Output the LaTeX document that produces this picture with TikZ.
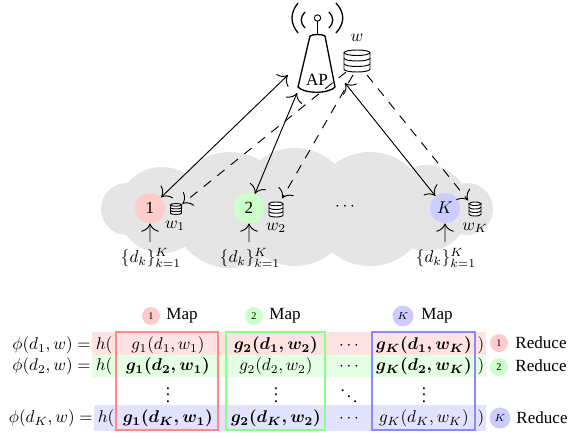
\documentclass[tikz,border=0pt]{standalone}
\usepackage{fontspec}
\setmainfont{Liberation Serif}
\usetikzlibrary{arrows.meta}
\definecolor{cred}{HTML}{FFCCCC}
\definecolor{cgreen}{HTML}{CCFFCC}
\definecolor{cblue}{HTML}{CCCCFF}
\definecolor{bred}{HTML}{FFE3E3}
\definecolor{bgreen}{HTML}{E5FFE5}
\definecolor{bblue}{HTML}{E3E3FF}
\definecolor{fred}{HTML}{FF8A8A}
\definecolor{fgreen}{HTML}{8AFF8A}
\definecolor{fblue}{HTML}{8A8AFF}
\definecolor{cloudc}{HTML}{E5E5E5}
\newcommand{\mydb}[4]{%
  \begin{scope}[shift={(#1,#2)},x=#3*0.75pt,y=-#4*0.75pt]
    \draw[dbline,fill=white] (-1,-0.75) -- (-1,0.75) arc[start angle=180,end angle=0,x radius=1,y radius=0.25] -- (1,-0.75);
    \draw[dbline,fill=white] (0,-0.75) ellipse[x radius=1,y radius=0.25];
    \draw[dbline] (-1,-0.25) arc[start angle=180,end angle=0,x radius=1,y radius=0.25];
    \draw[dbline] (-1,0.25) arc[start angle=180,end angle=0,x radius=1,y radius=0.25];
  \end{scope}}
\tikzset{
  x=0.75pt,y=-0.75pt,
  dbline/.style={line width=0.7pt},
  lobe/.style={fill=cloudc,draw=none},
  worker/.style={circle,minimum size=17.6pt,inner sep=0pt,scale=1.28},
  dbspot/.style={circle,inner sep=0pt},
  link/.style={line width=0.7pt,{Computer Modern Rightarrow[scale=2]}-{Computer Modern Rightarrow[scale=2]}},
  dlink/.style={line width=0.7pt,dash pattern=on 7pt off 6pt,-{Computer Modern Rightarrow[scale=2]}},
  up/.style={line width=0.7pt,-{Computer Modern Rightarrow[scale=2]}},
  tag/.style={circle,inner sep=0pt,minimum size=10.5pt,font=\fontsize{6}{7}\selectfont,scale=1.28},
  frame/.style={line width=1.5pt},
  lbl/.style={inner sep=0pt,scale=1.28},
  cell/.style={lbl,anchor=base},
  boldcell/.style={lbl,anchor=base,font=\boldmath},
}
\begin{document}
\begin{tikzpicture}
\useasboundingbox (0,0) rectangle (569,439);
% cloud
\fill[lobe] (127,209) circle[radius=26];
\fill[lobe] (162,210) ellipse[x radius=44,y radius=43];
\fill[lobe] (230,210) ellipse[x radius=58,y radius=58];
\fill[lobe] (295,207) ellipse[x radius=58,y radius=59];
\fill[lobe] (370,209) ellipse[x radius=58,y radius=57];
\fill[lobe] (427,208) ellipse[x radius=42,y radius=43];
\fill[lobe] (467,209) circle[radius=26];
% AP
\draw[line width=1pt] (310,36) -- (298,87) .. controls (304,94) and (329,94) .. (335,87) -- (325,36) .. controls (322,34) and (313,34) .. (310,36);
\draw[line width=0.7pt] (317.5,21) -- (317.5,34);
\draw[line width=0.7pt] (317.5,18) circle[radius=3.2];
\draw[line width=1pt] (305,12) .. controls (300,17) and (300,23) .. (305,28);
\draw[line width=1pt] (329,12) .. controls (334,17) and (334,23) .. (329,28);
\draw[line width=1pt] (298,3) .. controls (290,13) and (290,23) .. (298,33);
\draw[line width=1pt] (336,3) .. controls (345,13) and (345,23) .. (336,33);
\node[lbl] (ap) at (317,80) {AP};
\mydb{357}{61}{13}{11}
\node[lbl] (wlab) at (357,38) {$w$};
% anchors of links
\coordinate (apa) at (288,75);
\coordinate (apb) at (297,93);
\coordinate (apc) at (345,83);
\coordinate (dba) at (346,72);
\coordinate (dbb) at (353,75);
\coordinate (dbc) at (367,75);
% workers
\node[worker,fill=cred] (n1) at (150,208) {1};
\node[worker,fill=cgreen] (n2) at (249,208) {2};
\node[worker,fill=cblue] (nk) at (445,208) {$K$};
\node[lbl] (dots) at (345,207) {$\cdots$};
\node[dbspot,minimum size=12pt] (d1) at (176,209) {};
\node[dbspot,minimum size=18pt] (d2) at (276,209) {};
\node[dbspot,minimum size=16pt] (dk) at (475,209) {};
\mydb{176}{209}{5.5}{5.5}
\mydb{276}{209.5}{7}{7.5}
\mydb{475}{209}{6}{7}
\node[lbl] (w1) at (175,226) {$w_1$};
\node[lbl] (w2) at (276,228) {$w_2$};
\node[lbl] (wk) at (475,228) {$w_K$};
\node[lbl] (s1) at (151,258) {$\{d_k\}_{k=1}^K$};
\node[lbl] (s2) at (250,258) {$\{d_k\}_{k=1}^K$};
\node[lbl] (sk) at (446,258) {$\{d_k\}_{k=1}^K$};
\coordinate (s1t) at (150,242);
\coordinate (s2t) at (249,242);
\coordinate (skt) at (445,242);
% connectors
\draw[link] (apa) -- (n1);
\draw[link] (apb) -- (n2);
\draw[link] (apc) -- (nk);
\draw[dlink] (dba) -- (d1);
\draw[dlink] (dbb) -- (d2);
\draw[dlink] (dbc) -- (dk);
\draw[up] (s1t) -- (n1);
\draw[up] (s2t) -- (n2);
\draw[up] (skt) -- (nk);
% table bands
\fill[bred] (92,332) rectangle (486,354.5);
\fill[bgreen] (92,354.5) rectangle (486,377);
\fill[bblue] (94,405) rectangle (486,431);
% map header
\node[tag,fill=cred] (m1) at (151,316) {1};
\node[lbl] (m1t) at (182,316) {Map};
\node[tag,fill=cgreen] (m2) at (254,316) {2};
\node[lbl] (m2t) at (285,316) {Map};
\node[tag,fill=cblue,minimum size=12.3pt] (mk) at (403,316) {$K$};
\node[lbl] (mkt) at (437,316) {Map};
% row text
\node[lbl,anchor=base east] (p1) at (91,349.5) {$\phi(d_1,w)=$};
\node[lbl,anchor=base east] (p2) at (91,370.5) {$\phi(d_2,w)=$};
\node[lbl,anchor=base east] (pk) at (93,422.5) {$\phi(d_K,w)=$};
\node[cell] (h1) at (104,349.5) {$h($};
\node[cell] (h2) at (104,370.5) {$h($};
\node[cell] (hk) at (106,422.5) {$h($};
\node[cell] (c11) at (168,349.5) {$g_1(d_1,w_1)$};
\node[boldcell] (c12) at (276,349.5) {$g_2(d_1,w_2)$};
\node[cell] (c1d) at (349,349.5) {$\cdots$};
\node[boldcell] (c1k) at (424,349.5) {$g_K(d_1,w_K)$};
\node[boldcell] (c21) at (168,370.5) {$g_1(d_2,w_1)$};
\node[cell] (c22) at (276,370.5) {$g_2(d_2,w_2)$};
\node[cell] (c2d) at (349,370.5) {$\cdots$};
\node[boldcell] (c2k) at (424,370.5) {$g_K(d_2,w_K)$};
\node[lbl] (v1) at (168,390) {$\vdots$};
\node[lbl] (v2) at (276,390) {$\vdots$};
\node[lbl] (vd) at (349,391) {$\ddots$};
\node[lbl] (vk) at (424,390) {$\vdots$};
\node[boldcell] (ck1) at (168,422.5) {$g_1(d_K,w_1)$};
\node[boldcell] (ck2) at (276,422.5) {$g_2(d_K,w_2)$};
\node[cell] (ckd) at (349,422.5) {$\cdots$};
\node[cell] (ckk) at (424,422.5) {$g_K(d_K,w_K)$};
\node[cell] (e1) at (481,349.5) {$)$};
\node[cell] (e2) at (481,370.5) {$)$};
\node[cell] (ek) at (481,422.5) {$)$};
% frames
\draw[frame,draw=fred] (116,332) rectangle (218,430);
\draw[frame,draw=fgreen] (226,332) rectangle (325,430);
\draw[frame,draw=fblue] (372,332) rectangle (475,430);
% reduce
\node[tag,fill=cred] (r1) at (499,343) {1};
\node[lbl] (r1t) at (541,343) {Reduce};
\node[tag,fill=cgreen] (r2) at (499,367) {2};
\node[lbl] (r2t) at (541,366) {Reduce};
\node[tag,fill=cblue,minimum size=12.3pt] (rk) at (500,418) {$K$};
\node[lbl] (rkt) at (542,418) {Reduce};
\end{tikzpicture}
\end{document}
